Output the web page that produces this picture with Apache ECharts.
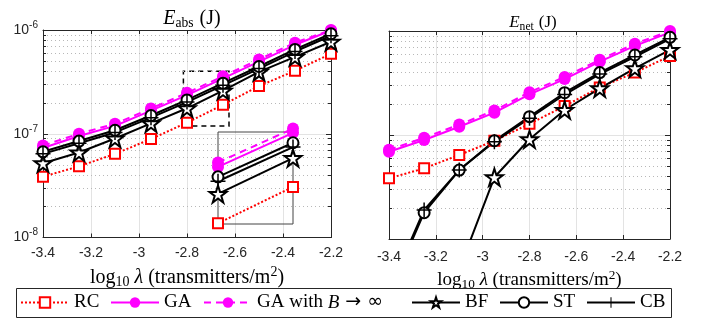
<!DOCTYPE html>
<html>
<head>
<meta charset="utf-8">
<script src="https://cdn.jsdelivr.net/npm/echarts@6/dist/echarts.min.js"></script>
<style>
  html, body { margin: 0; padding: 0; background: #fff; }
  #chart { width: 710px; height: 324px; }
</style>
</head>
<body>
<div id="chart"></div>
<script>
// log10 of density, one entry per simulated point
const lambdaVals = [-3.4, -3.25, -3.1, -2.95, -2.8, -2.65, -2.5, -2.35, -2.2];
const xRange = [-3.4, -2.2];
const minorGrid = [2e-8, 3e-8, 4e-8, 5e-8, 6e-8, 7e-8, 8e-8, 9e-8,
                   2e-7, 3e-7, 4e-7, 5e-7, 6e-7, 7e-7, 8e-7, 9e-7];

// E_abs (J)
const absRC    = [3.86e-8, 4.85e-8, 6.4e-8, 8.9e-8, 1.28e-7, 1.9e-7, 2.88e-7, 4.05e-7, 5.9e-7];
const absGA    = [7.3e-8, 9.5e-8, 1.19e-7, 1.67e-7, 2.36e-7, 3.42e-7, 4.95e-7, 7.2e-7, 9.9e-7];
const absGAinf = [7.7e-8, 1.0e-7, 1.25e-7, 1.75e-7, 2.48e-7, 3.58e-7, 5.2e-7, 7.55e-7, 1.0e-6];
const absBF    = [5.2e-8, 6.6e-8, 9.0e-8, 1.26e-7, 1.76e-7, 2.6e-7, 3.95e-7, 5.5e-7, 7.7e-7];
const absST    = [6.7e-8, 8.5e-8, 1.08e-7, 1.5e-7, 2.12e-7, 3.07e-7, 4.45e-7, 6.5e-7, 9.2e-7];
const absCB    = [6.4e-8, 8.1e-8, 1.03e-7, 1.43e-7, 2.02e-7, 2.93e-7, 4.25e-7, 6.2e-7, 8.8e-7];

// E_net (J)
const netRC    = [3.83e-8, 4.78e-8, 6.43e-8, 8.8e-8, 1.28e-7, 1.9e-7, 2.87e-7, 3.98e-7, 5.75e-7];
const netGA    = [6.9e-8, 8.95e-8, 1.2e-7, 1.64e-7, 2.46e-7, 3.45e-7, 5.07e-7, 7.2e-7, 9.7e-7];
const netGAinf = [7.2e-8, 9.4e-8, 1.26e-7, 1.72e-7, 2.58e-7, 3.62e-7, 5.3e-7, 7.55e-7, 1.0e-6];
const netBF    = [2e-10, 1e-9, 5.1e-9, 3.92e-8, 9.1e-8, 1.74e-7, 2.81e-7, 4.38e-7, 6.57e-7];
const netST    = [3.0e-9, 1.79e-8, 4.6e-8, 8.8e-8, 1.5e-7, 2.55e-7, 3.98e-7, 5.88e-7, 8.7e-7];
const netCB    = [3.2e-9, 1.9e-8, 4.6e-8, 8.6e-8, 1.45e-7, 2.45e-7, 3.85e-7, 5.65e-7, 8.4e-7];

// inset (zoom of the dashed box) and the box itself
const insetIdx = [4, 5];
const insetX = [-2.8, -2.65];
const insetY = [1.27e-7, 3.45e-7];
const zoomBoxX = [-2.815, -2.625];
const zoomBoxY = [1.19e-7, 4.0e-7];

// legend entries and where each one starts
const legendKeys = ['RC', 'GA', 'GAinf', 'BF', 'ST', 'CB'];
const legendLeft = [20, 110, 203, 411, 499, 586];

const SERIF = '"Liberation Serif", "DejaVu Serif", serif';
const SANS = '"Liberation Sans", Arial, sans-serif';
const SYM = '"DejaVu Sans", sans-serif';
const AXIS_COL = '#262626';
const GRID_COL = '#e3e3e3';

const starPath = 'path://M50,0 L61.8,35.4 L99,35.4 L69,57.3 L80.4,92.7 L50,70.8 L19.6,92.7 L31,57.3 L1,35.4 L38.2,35.4 Z';
const plusPath = 'path://M45,0 H55 V45 H100 V55 H55 V100 H45 V55 H0 V45 H45 Z';

const styles = {
  RC:   { color: '#ff0000', line: 'dotted', sym: 'rect', size: 10, fill: '#fff', bw: 2 },
  GA:   { color: '#ff00ff', line: 'solid', sym: 'circle', size: 12, fill: '#ff00ff', bw: 0 },
  GAinf:{ color: '#ff00ff', line: [7, 5], sym: 'circle', size: 12, fill: '#ff00ff', bw: 0 },
  BF:   { color: '#000000', line: 'solid', sym: starPath, size: 17, fill: '#fff', bw: 2 },
  ST:   { color: '#000000', line: 'solid', sym: 'circle', size: 11, fill: '#fff', bw: 2 },
  CB:   { color: '#000000', line: 'solid', sym: plusPath, size: 15, fill: '#000', bw: 0 }
};
const names = { RC: 'RC', GA: 'GA', GAinf: 'GA with B \u2192 \u221e', BF: 'BF', ST: 'ST', CB: 'CB' };

function pairs(xs, ys) { return xs.map((x, i) => [x, ys[i]]); }

function mkSeries(key, values, xi, yi, extra) {
  const s = styles[key];
  return Object.assign({
    name: names[key],
    type: 'line',
    xAxisIndex: xi,
    yAxisIndex: yi,
    data: pairs(lambdaVals, values),
    symbol: s.sym,
    symbolSize: s.size,
    showSymbol: true,
    clip: true,
    animation: false,
    z: 3,
    lineStyle: { color: s.color, width: 2, type: s.line },
    itemStyle: { color: s.fill, borderColor: s.color, borderWidth: s.bw }
  }, extra || {});
}

// one horizontal piece per minor decade value: 'grid' spans the panel,
// 'left'/'right' are the short minor ticks on the box edges
function minorSeries(xi, yi, part) {
  return {
    type: 'custom', xAxisIndex: xi, yAxisIndex: yi,
    data: minorGrid.map(v => [xRange[0], v]),
    renderItem(params, api) {
      const v = api.value(1);
      const a = api.coord([xRange[0], v]);
      const b = api.coord([xRange[1], v]);
      const y = Math.round(a[1]) + 0.5;
      let x1 = a[0], x2 = b[0];
      if (part === 'left') x2 = a[0] + 3;
      if (part === 'right') x1 = b[0] - 3;
      return {
        type: 'line',
        shape: { x1, y1: y, x2, y2: y },
        style: part === 'grid'
          ? { stroke: '#b8b8b8', lineWidth: 1, lineDash: [1, 3] }
          : { stroke: AXIS_COL, lineWidth: 1 }
      };
    }
  };
}

const expLabel = v => '{b|10}{s|' + Math.round(Math.log10(v)) + '}';
const xLabel = v => String(Math.round(v * 10) / 10);

function xAxes(gridIndex, nameSize, nameGap, labelMargin) {
  return [{
    type: 'value', gridIndex, min: xRange[0], max: xRange[1], interval: 0.2,
    position: 'bottom',
    name: '{t|log}{s|10}{i| \u03bb}{t| (transmitters/m}{p|2}{t|)}',
    nameLocation: 'middle', nameGap,
    nameTextStyle: {
      rich: {
        t: { fontFamily: SERIF, fontSize: nameSize, color: '#000' },
        i: { fontFamily: SERIF, fontSize: nameSize, fontStyle: 'italic', color: '#000' },
        s: { fontFamily: SERIF, fontSize: nameSize * 0.7, color: '#000', padding: [nameSize * 0.5, 0, 0, 0] },
        p: { fontFamily: SERIF, fontSize: nameSize * 0.7, color: '#000', padding: [0, 0, nameSize * 0.5, 0] }
      }
    },
    axisLine: { show: true, lineStyle: { color: AXIS_COL, width: 1 } },
    axisTick: { show: true, inside: true, length: 4, lineStyle: { color: AXIS_COL } },
    axisLabel: { formatter: xLabel, fontFamily: SANS, fontSize: 14, color: '#262626', margin: labelMargin },
    splitLine: { show: true, lineStyle: { color: GRID_COL, width: 1 } }
  }, {
    type: 'value', gridIndex, min: xRange[0], max: xRange[1], interval: 0.2, position: 'top',
    axisLine: { show: true, lineStyle: { color: AXIS_COL, width: 1 } },
    axisTick: { show: true, inside: true, length: 4, lineStyle: { color: AXIS_COL } },
    axisLabel: { show: false }, splitLine: { show: false }
  }];
}

function yAxes(gridIndex, showLabels) {
  return [{
    type: 'log', logBase: 10, gridIndex, min: 1e-8, max: 1e-6, position: 'left',
    axisLine: { show: true, lineStyle: { color: AXIS_COL, width: 1 } },
    axisTick: { show: true, inside: true, length: 5, lineStyle: { color: AXIS_COL } },
    axisLabel: {
      show: showLabels, formatter: expLabel, margin: 5,
      rich: {
        b: { fontFamily: SANS, fontSize: 14, color: '#262626' },
        s: { fontFamily: SANS, fontSize: 10, color: '#262626', padding: [0, 0, 10, 0] }
      }
    },
    splitLine: { show: true, lineStyle: { color: GRID_COL, width: 1 } }
  }, {
    type: 'log', logBase: 10, gridIndex, min: 1e-8, max: 1e-6, position: 'right',
    axisLine: { show: true, lineStyle: { color: AXIS_COL, width: 1 } },
    axisTick: { show: true, inside: true, length: 5, lineStyle: { color: AXIS_COL } },
    axisLabel: { show: false }, splitLine: { show: false }
  }];
}

const titleRich = size => ({
  e: { fontFamily: SERIF, fontSize: size, fontStyle: 'italic', fontWeight: 'normal', color: '#000' },
  s: { fontFamily: SERIF, fontSize: size * 0.68, fontWeight: 'normal', color: '#000', padding: [size * 0.45, 0, 0, 0] },
  t: { fontFamily: SERIF, fontSize: size, fontWeight: 'normal', color: '#000', padding: [0, 0, 0, size * 0.3] }
});

const chart = echarts.init(document.getElementById('chart'), null, { renderer: 'canvas' });

const series = [
  minorSeries(0, 0, 'grid'), minorSeries(0, 0, 'left'), minorSeries(0, 0, 'right'),
  minorSeries(2, 2, 'grid'), minorSeries(2, 2, 'left'), minorSeries(2, 2, 'right'),
  // zoom box in left panel
  {
    type: 'line', xAxisIndex: 0, yAxisIndex: 0, data: pairs(lambdaVals, absRC),
    symbol: 'none', lineStyle: { width: 0, color: 'rgba(0,0,0,0)' }, silent: true, z: 4, animation: false,
    markArea: {
      silent: true, animation: false,
      itemStyle: { color: 'rgba(0,0,0,0)', borderColor: '#000', borderWidth: 1.5, borderType: [5, 4] },
      data: [[{ xAxis: zoomBoxX[0], yAxis: zoomBoxY[0] }, { xAxis: zoomBoxX[1], yAxis: zoomBoxY[1] }]]
    }
  },
  mkSeries('RC', absRC, 0, 0),
  mkSeries('GA', absGA, 0, 0),
  mkSeries('GAinf', absGAinf, 0, 0),
  mkSeries('BF', absBF, 0, 0),
  mkSeries('ST', absST, 0, 0),
  mkSeries('CB', absCB, 0, 0),
  mkSeries('RC', netRC, 2, 2),
  mkSeries('GA', netGA, 2, 2),
  mkSeries('GAinf', netGAinf, 2, 2),
  mkSeries('BF', netBF, 2, 2),
  mkSeries('ST', netST, 2, 2),
  mkSeries('CB', netCB, 2, 2)
];

// inset series
[['RC', absRC], ['GA', absGA], ['GAinf', absGAinf], ['BF', absBF], ['ST', absST], ['CB', absCB]].forEach(([k, arr]) => {
  series.push(mkSeries(k, arr, 4, 4, {
    data: insetIdx.map(i => [lambdaVals[i], arr[i]]),
    clip: false, z: 6
  }));
});

const legendText = name => name === names.GAinf
  ? '{t|GA with }{i|B}{m| \u2192 \u221e}'
  : '{t|' + name + '}';

const legends = legendKeys.map((k, i) => ({
  data: [names[k]],
  left: legendLeft[i], top: 293,
  padding: 0,
  itemWidth: 48, itemHeight: 13,
  formatter: legendText,
  selectedMode: false,
  textStyle: {
    rich: {
      t: { fontFamily: SERIF, fontSize: 19, color: '#000' },
      i: { fontFamily: SERIF, fontSize: 19, fontStyle: 'italic', color: '#000' },
      m: { fontFamily: SYM, fontSize: 19, color: '#000' }
    }
  }
}));

const option = {
  backgroundColor: '#fff',
  animation: false,
  title: [
    { text: '{e|E}{s|abs}{t|(J)}', left: 187, top: 2, textAlign: 'center', textStyle: { fontWeight: 'normal', rich: titleRich(20) } },
    { text: '{e|E}{s|net}{t|(J)}', left: 528, top: 8, textAlign: 'center', textStyle: { fontWeight: 'normal', rich: titleRich(17) } }
  ],
  grid: [
    { left: 43, top: 30, width: 288, height: 207.5 },
    { left: 389, top: 31, width: 281, height: 208 },
    { left: 218, top: 132, width: 75, height: 92, show: true, borderColor: '#444', borderWidth: 1, backgroundColor: 'rgba(0,0,0,0)', z: 5 }
  ],
  xAxis: [
    ...xAxes(0, 20, 26, 9),
    ...xAxes(1, 19, 30, 11),
    { type: 'value', gridIndex: 2, min: insetX[0], max: insetX[1], show: false }
  ],
  yAxis: [
    ...yAxes(0, true),
    ...yAxes(1, false),
    { type: 'log', logBase: 10, gridIndex: 2, min: insetY[0], max: insetY[1], show: false }
  ],
  legend: legends,
  graphic: [{
    type: 'rect', silent: true,
    shape: { x: 16.5, y: 288.5, width: 655, height: 29 },
    style: { fill: 'none', stroke: '#262626', lineWidth: 1 }
  }],
  series
};

chart.setOption(option);
</script>
</body>
</html>
